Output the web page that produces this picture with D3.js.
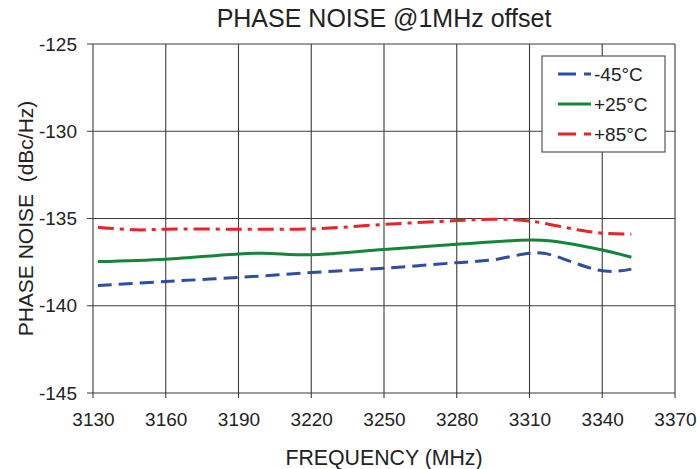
<!DOCTYPE html>
<html>
<head>
<meta charset="utf-8">
<script src="https://cdn.jsdelivr.net/npm/d3@7"></script>
<style>
  body { margin: 0; background: #fff; }
  text { font-family: "Liberation Sans", Arial, sans-serif; fill: #222; }
</style>
</head>
<body>
<svg id="chart" width="697" height="469"></svg>
<script>
// values
const freqLow = [3132, 3160, 3190, 3220, 3250, 3280, 3295, 3310, 3316, 3338, 3345, 3352];
const noiseLow = [-138.84, -138.61, -138.38, -138.10, -137.85, -137.53, -137.37, -136.99, -136.99, -137.95, -138.03, -137.90];

const freqRoom = [3132, 3160, 3190, 3200, 3220, 3250, 3280, 3310, 3318, 3340, 3352];
const noiseRoom = [-137.47, -137.33, -137.03, -136.99, -137.08, -136.78, -136.48, -136.23, -136.27, -136.80, -137.22];

const freqHigh = [3132, 3148, 3160, 3190, 3220, 3250, 3280, 3295, 3310, 3330, 3340, 3352];
const noiseHigh = [-135.50, -135.65, -135.61, -135.61, -135.60, -135.34, -135.12, -135.04, -135.14, -135.65, -135.84, -135.90];

const seriesNames = ["-45°C", "+25°C", "+85°C"];
const xTicks = [3130, 3160, 3190, 3220, 3250, 3280, 3310, 3340, 3370];
const yTicks = [-125, -130, -135, -140, -145];

const svg = d3.select("#chart"),
  margin = { top: 44, right: 22, bottom: 76, left: 93 },
  width = 697 - margin.left - margin.right,
  height = 469 - margin.top - margin.bottom;

const x = d3.scaleLinear().domain([3130, 3370]).range([margin.left, margin.left + width]);
const y = d3.scaleLinear().domain([-145, -125]).range([margin.top + height, margin.top]);

const series = [
  { name: seriesNames[0], xs: freqLow, ys: noiseLow, color: "#2f4ea2", dash: "14,7" },
  { name: seriesNames[1], xs: freqRoom, ys: noiseRoom, color: "#16843b", dash: null },
  { name: seriesNames[2], xs: freqHigh, ys: noiseHigh, color: "#e8232a", dash: "16,6,4,6" }
];

// grid
const grid = svg.append("g").attr("stroke", "#3c3c3c").attr("stroke-width", 1.1);
grid.selectAll("line.v")
  .data(xTicks)
  .enter()
  .append("line")
  .attr("x1", d => x(d)).attr("x2", d => x(d))
  .attr("y1", margin.top).attr("y2", margin.top + height + 5);
grid.selectAll("line.h")
  .data(yTicks)
  .enter()
  .append("line")
  .attr("x1", margin.left - 6).attr("x2", margin.left + width)
  .attr("y1", d => y(d)).attr("y2", d => y(d));

// axes (labels only, lines drawn by grid)
const xAxis = svg.append("g")
  .attr("transform", `translate(0,${margin.top + height})`)
  .call(d3.axisBottom(x).tickValues(xTicks).tickSize(0).tickPadding(20).tickFormat(d => String(d)));
xAxis.select(".domain").remove();
xAxis.selectAll("text").style("font-size", "19px").attr("fill", "#222");

const yAxis = svg.append("g")
  .attr("transform", `translate(${margin.left},0)`)
  .call(d3.axisLeft(y).tickValues(yTicks).tickSize(0).tickPadding(16).tickFormat(d => String(d)));
yAxis.select(".domain").remove();
yAxis.selectAll("text").style("font-size", "19px").attr("fill", "#222");

// lines
const line = d3.line()
  .x(d => x(d[0]))
  .y(d => y(d[1]))
  .curve(d3.curveCatmullRom.alpha(0.5));

svg.append("g")
  .selectAll("path")
  .data(series)
  .enter()
  .append("path")
  .attr("d", s => line(d3.zip(s.xs, s.ys)))
  .attr("fill", "none")
  .attr("stroke", s => s.color)
  .attr("stroke-width", 3)
  .attr("stroke-dasharray", s => s.dash);

// title and axis titles
svg.append("text")
  .attr("x", margin.left + width / 2)
  .attr("y", 27)
  .attr("text-anchor", "middle")
  .style("font-size", "25px")
  .text("PHASE NOISE @1MHz offset");

svg.append("text")
  .attr("x", margin.left + width / 2)
  .attr("y", 465)
  .attr("text-anchor", "middle")
  .style("font-size", "21.3px")
  .text("FREQUENCY (MHz)");

svg.append("text")
  .attr("transform", `translate(33,${margin.top + height / 2}) rotate(-90)`)
  .attr("text-anchor", "middle")
  .style("font-size", "21px")
  .style("white-space", "pre")
  .text("PHASE NOISE  (dBc/Hz)");

// legend
const legend = svg.append("g").attr("id", "legend");
legend.append("rect")
  .attr("x", 542).attr("y", 56)
  .attr("width", 123).attr("height", 96)
  .attr("fill", "#fff")
  .attr("stroke", "#555")
  .attr("stroke-width", 1.2);

const entry = legend.selectAll("g.entry")
  .data(series)
  .enter()
  .append("g")
  .attr("class", "entry")
  .attr("transform", (d, i) => `translate(0,${74 + i * 30})`);

entry.append("line")
  .attr("x1", 558).attr("x2", 591)
  .attr("stroke", d => d.color)
  .attr("stroke-width", 3)
  .attr("stroke-dasharray", d => d.dash ? "18,8" : null);

entry.append("text")
  .attr("x", 594)
  .attr("y", 7)
  .style("font-size", "19px")
  .text(d => d.name);
</script>
</body>
</html>
